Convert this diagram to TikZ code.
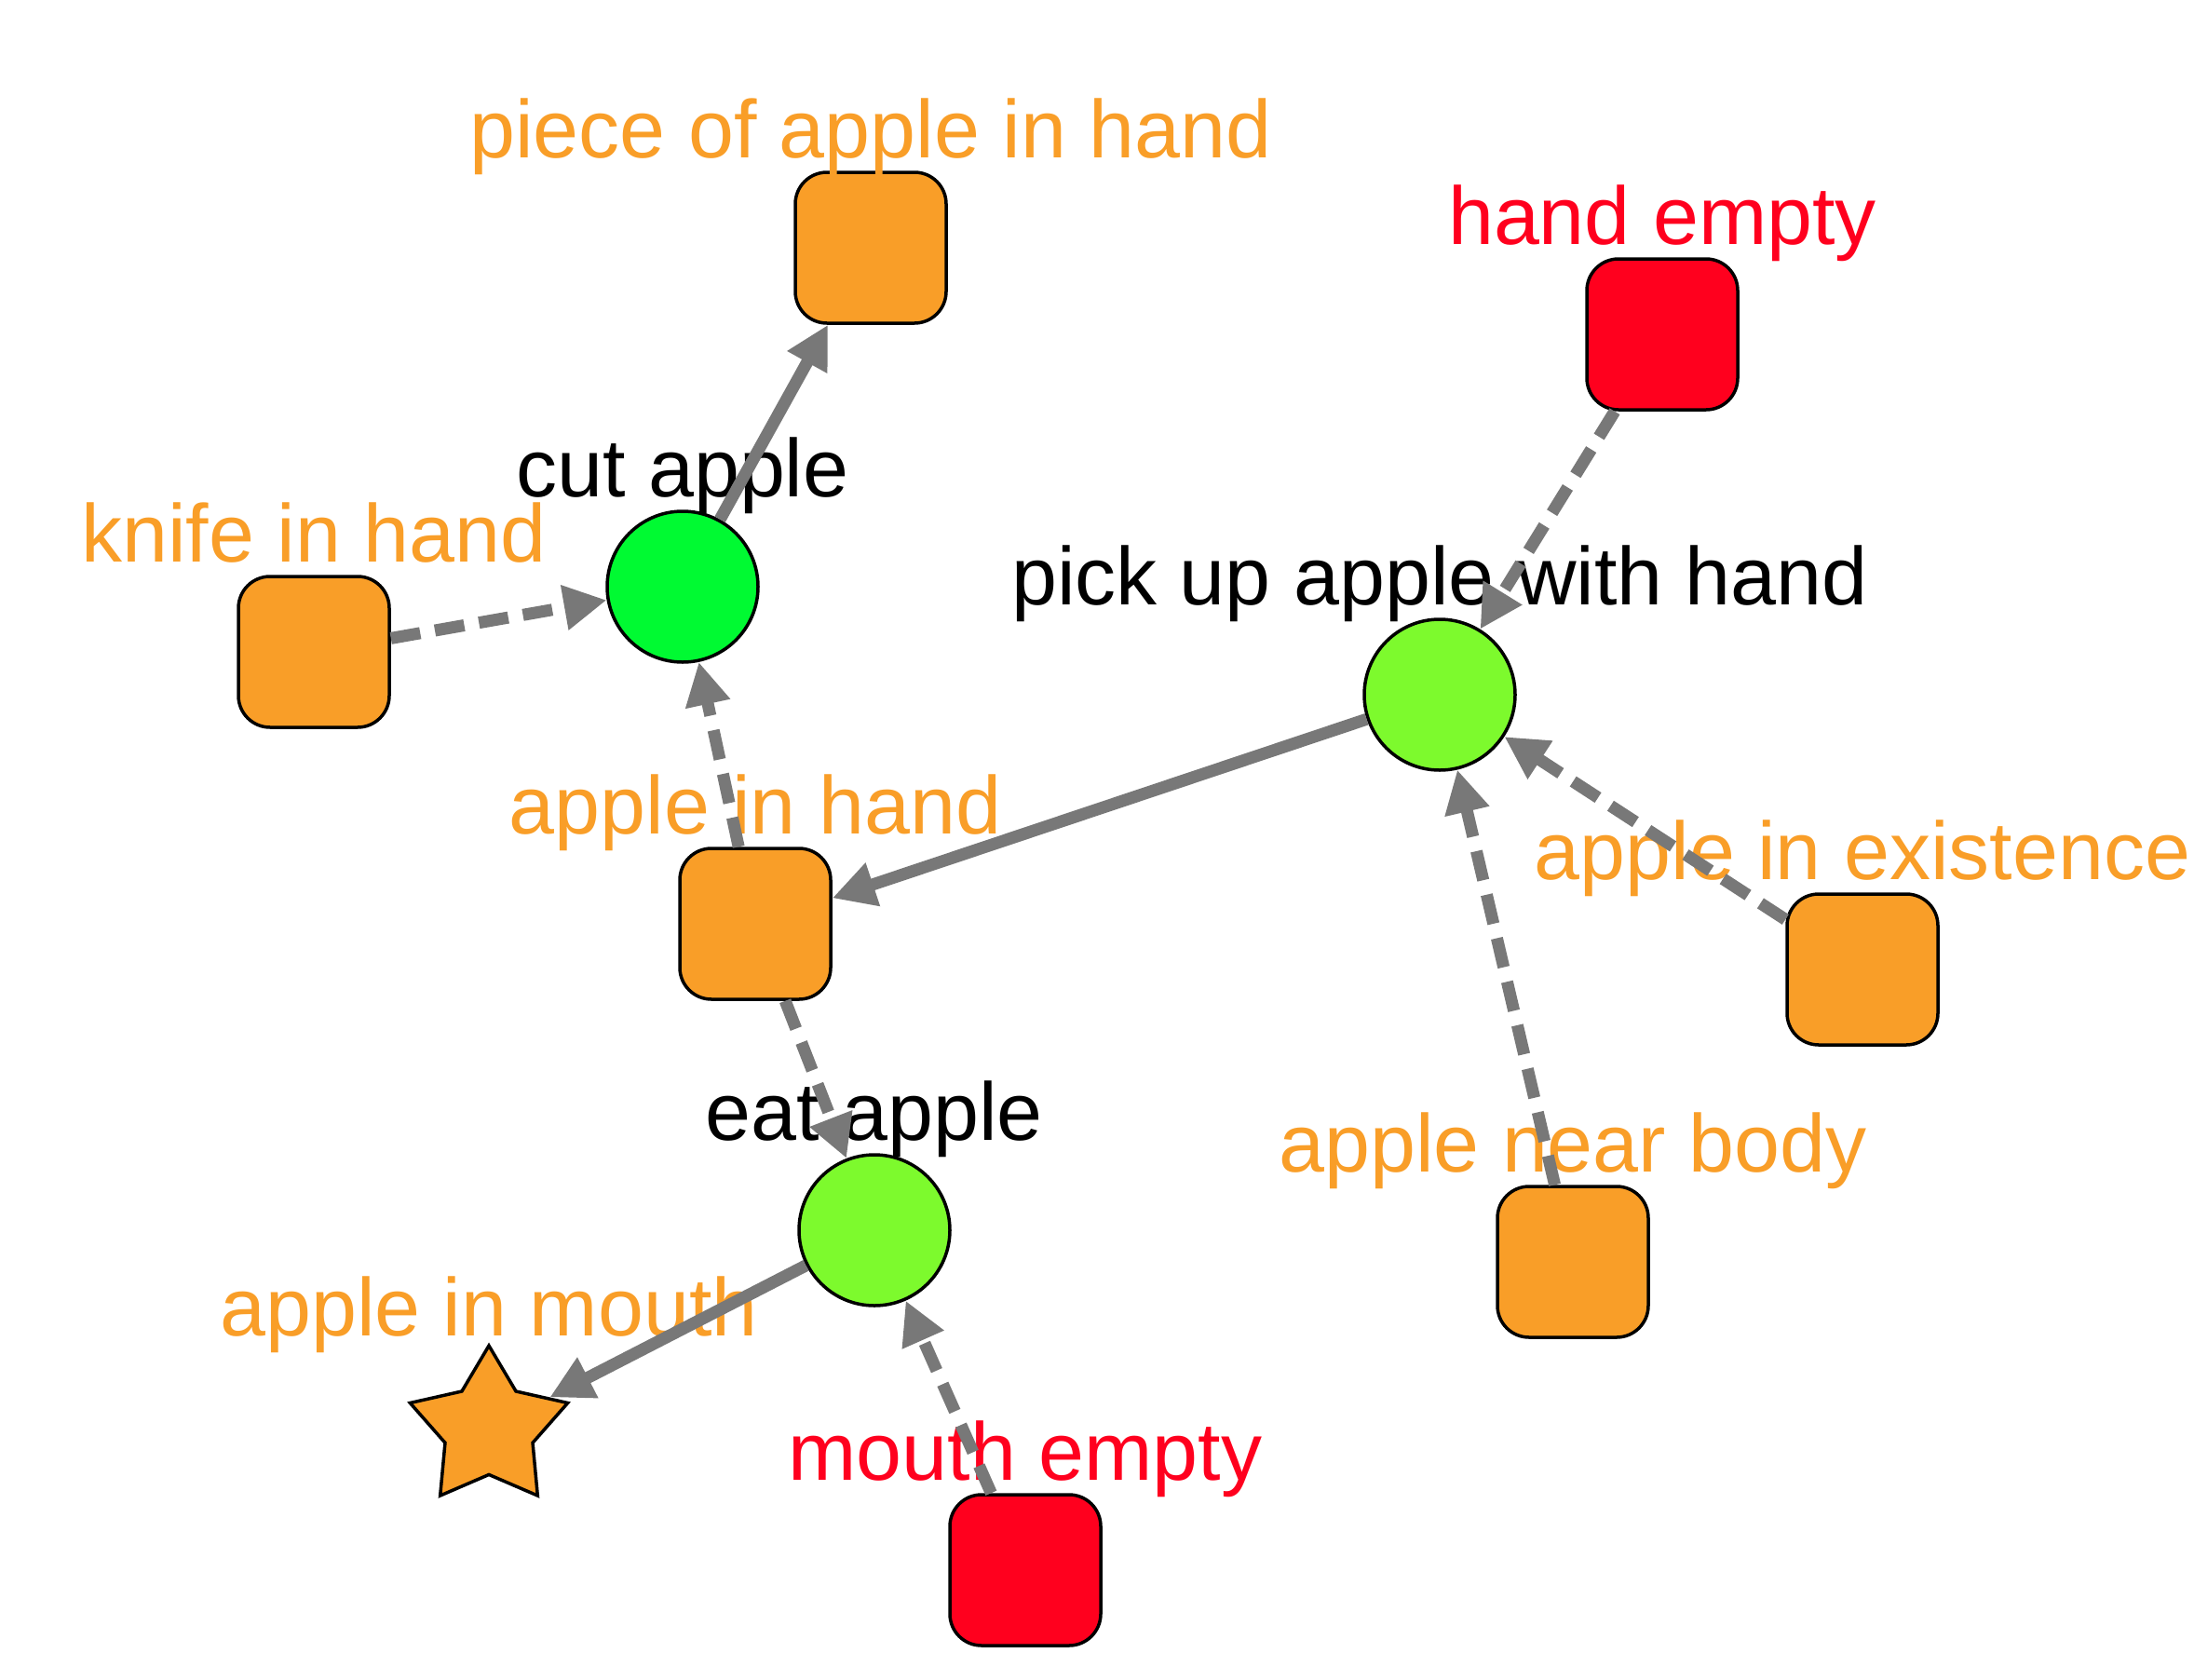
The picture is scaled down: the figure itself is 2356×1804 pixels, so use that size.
\documentclass[tikz,border=0pt]{standalone}
\usepackage{fontspec}
\setmainfont{Liberation Sans}
\usetikzlibrary{arrows.meta,shapes.geometric}
\definecolor{orng}{RGB}{249,158,40}
\definecolor{rd}{RGB}{255,0,30}
\definecolor{grA}{RGB}{0,250,50}
\definecolor{grB}{RGB}{125,250,45}
\definecolor{edg}{RGB}{120,120,120}
\begin{document}
\begin{tikzpicture}[x=0.5pt,y=-0.5pt,
 sq/.style={rectangle, rounded corners=17pt, minimum size=81pt, inner sep=0pt, draw=black, line width=1.75pt},
 circ/.style={circle, minimum size=81pt, inner sep=0pt, draw=black, line width=1.75pt},
 lbl/.style={font=\fontsize{44pt}{50pt}\selectfont, anchor=base, inner sep=0pt},
 solidedge/.style={draw=edg, line width=6.5pt, -{Triangle[length=23pt,width=23pt]}},
 dashedge/.style={solidedge, dash pattern=on 16pt off 8pt},
]
\useasboundingbox (0,0) rectangle (2356,1804);
% shapes
\node[sq, fill=orng] (piece) at (935,266) {};
\node[sq, fill=rd] (handempty) at (1785,359) {};
\node[circ, fill=grA] (cut) at (733,630) {};
\node[sq, fill=orng] (knife) at (337,700) {};
\node[circ, fill=grB] (pick) at (1546,746) {};
\node[sq, fill=orng] (inhand) at (811,992) {};
\node[sq, fill=orng] (exist) at (2000,1041) {};
\node[circ, fill=grB] (eat) at (939,1321) {};
\node[sq, fill=orng] (near) at (1689,1355) {};
\node[star, star points=5, star point ratio=1.8, minimum size=89pt, inner sep=0pt, draw=black, line width=1.75pt, fill=orng] (inmouth) at (525,1534) {};
\node[sq, fill=rd] (mouthempty) at (1101,1686) {};
% labels
\node[lbl, text=orng] (lpiece) at (935,169) {piece of apple in hand};
\node[lbl, text=rd] (lhandempty) at (1785,262) {hand empty};
\node[lbl, text=black] (lcut) at (733,533) {cut apple};
\node[lbl, text=orng] (lknife) at (337,603) {knife in hand};
\node[lbl, text=black] (lpick) at (1546,649) {pick up apple with hand};
\node[lbl, text=orng] (linhand) at (811,895) {apple in hand};
\node[lbl, text=orng] (lexist) at (2000,944) {apple in existence};
\node[lbl, text=black] (leat) at (939,1224) {eat apple};
\node[lbl, text=orng] (lnear) at (1689,1258) {apple near body};
\node[lbl, text=orng] (linmouth) at (525,1434) {apple in mouth};
\node[lbl, text=rd] (lmouthempty) at (1101,1589) {mouth empty};
% edges
\draw[solidedge] (cut) -- (piece);
\draw[dashedge] (knife) -- (cut);
\draw[dashedge] (inhand) -- (cut);
\draw[dashedge] (handempty) -- (pick);
\draw[solidedge] (pick) -- (inhand);
\draw[dashedge] (exist) -- (pick);
\draw[dashedge] (near) -- (pick);
\draw[dashedge] (inhand) -- (eat);
\draw[solidedge] (eat) -- (inmouth);
\draw[dashedge] (mouthempty) -- (eat);
\end{tikzpicture}
\end{document}
